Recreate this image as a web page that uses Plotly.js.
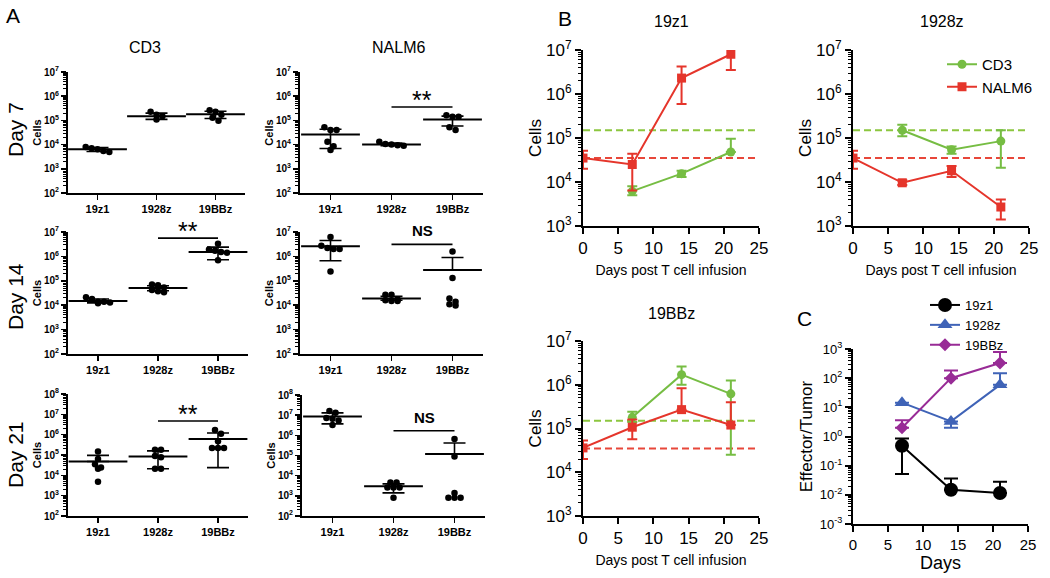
<!DOCTYPE html>
<html><head><meta charset="utf-8">
<script src="https://cdn.plot.ly/plotly-3.0.1.min.js"></script>
<style>html,body{margin:0;padding:0;background:#fff}#chart{width:1050px;height:578px}</style>
</head><body><div id="chart"></div>
<script>
// ---------- DATA ----------
const groups = ['19z1', '1928z', '19BBz'];

// Panel A: cells per mouse (points), mean, mean+SD, mean-SD
const cd3D7 = [[7e3, 8e3, 6.5e3, 5e3, 5.5e3], [2.3e5, 1.7e5, 1.1e5, 1.5e5], [2.6e5, 2.3e5, 1.7e5, 1.3e5, 9.6e4]];
const cd3D7Mean = [6.4e3, 1.5e5, 1.8e5];
const cd3D7Hi = [7.5e3, 2e5, 2.4e5];
const cd3D7Lo = [5.2e3, 1.1e5, 1.2e5];

const nalmD7 = [[5.2e4, 4e4, 4e4, 1.3e4, 8.5e3, 6e3], [1.3e4, 1.05e4, 9.5e3, 9e3, 1e4], [1.65e5, 1.4e5, 1.4e5, 5.2e4, 4e4]];
const nalmD7Mean = [2.6e4, 1.0e4, 1.1e5];
const nalmD7Hi = [4.3e4, 1.15e4, 1.5e5];
const nalmD7Lo = [6.9e3, 9e3, 5.9e4];

const cd3D14 = [[1.8e4, 2.1e4, 1.4e4, 1.3e4, 1.2e4, 1.4e4], [6.5e4, 7e4, 5.3e4, 4.2e4, 3.7e4, 3.4e4], [3.3e6, 1.5e6, 1.4e6, 1.7e6, 1.9e6, 7e5]];
const cd3D14Mean = [1.5e4, 5.1e4, 1.5e6];
const cd3D14Hi = [1.8e4, 6.3e4, 2.4e6];
const cd3D14Lo = [1.25e4, 3.9e4, 7.3e5];

const nalmD14 = [[6.2e6, 2.7e6, 2e6, 2e6, 2.2e6, 2.4e5], [2.7e4, 2.7e4, 1.7e4, 1.5e4, 1.5e4, 1.6e4], [1.6e6, 1.3e5, 1.4e4, 9.8e3, 1.1e4, 1.9e4]];
const nalmD14Mean = [2.6e6, 1.9e4, 2.8e5];
const nalmD14Hi = [4.5e6, 2.3e4, 9e5];
const nalmD14Lo = [6.6e5, 1.6e4, 2.8e5];

const cd3D21 = [[1.5e5, 6.3e4, 3.5e4, 2.4e4, 2.1e4, 4.9e3], [1.8e5, 1.8e5, 9e4, 7.8e4, 2.1e4, 2.1e4], [1.7e6, 1.1e6, 4.8e5, 2.2e5, 2.2e5, 2.2e5]];
const cd3D21Mean = [4.8e4, 8.5e4, 6.2e5];
const cd3D21Hi = [9.6e4, 1.6e5, 1.2e6];
const cd3D21Lo = [4.8e4, 2.1e4, 2.4e4];

const nalmD21 = [[1.6e7, 1.3e7, 7.3e6, 6.6e6, 5.5e6, 3.3e6], [4.6e3, 4.6e3, 2.6e3, 2.6e3, 2.6e3, 8e2], [6.5e5, 8.8e4, 8e2, 8e2, 8e2, 1.4e3]];
const nalmD21Mean = [8.5e6, 3e3, 1.2e5];
const nalmD21Hi = [1.3e7, 3.9e3, 4.2e5];
const nalmD21Lo = [3.7e6, 1.4e3, 1.2e5];

// significance bars (1928z vs 19BBz)
const sigLevels = [null, 3.6e5, 5.6e6, 3.1e6, 4.7e6, 1.7e6];
const sigLabels = ['', '**', '**', 'NS', '**', 'NS'];

// y tick labels
const aTickVals = [1e2, 1e3, 1e4, 1e5, 1e6, 1e7, 1e8];
const aTickText = ['10<sup>2</sup>', '10<sup>3</sup>', '10<sup>4</sup>', '10<sup>5</sup>', '10<sup>6</sup>', '10<sup>7</sup>', '10<sup>8</sup>'];
const cTickVals = [1e-3, 1e-2, 1e-1, 1, 10, 100, 1000];
const cTickText = ['10<sup>-3</sup>', '10<sup>-2</sup>', '10<sup>-1</sup>', '10<sup>0</sup>', '10<sup>1</sup>', '10<sup>2</sup>', '10<sup>3</sup>'];

// Panel B: kinetics
const daysCD3 = [7, 14, 21];
const daysNALM6 = [0, 7, 14, 21];
const z1CD3 = [6.2e3, 1.55e4, 4.8e4], z1CD3Hi = [8e3, 1.8e4, 9.6e4], z1CD3Lo = [5e3, 1.3e4, 4.8e4];
const z1NALM6 = [3.5e4, 2.5e4, 2.3e6, 8e6], z1NALM6Hi = [5.1e4, 4.4e4, 4.2e6, 1.3e7], z1NALM6Lo = [2e4, 6.4e3, 5.9e5, 3.5e6];
const z28CD3 = [1.5e5, 5.4e4, 8.5e4], z28CD3Hi = [2e5, 6.4e4, 1.5e5], z28CD3Lo = [1.1e5, 4.4e4, 2.1e4];
const z28NALM6 = [3.5e4, 9.6e3, 1.8e4, 2.7e3], z28NALM6Hi = [5.1e4, 1.1e4, 2.3e4, 4e3], z28NALM6Lo = [2e4, 8.5e3, 1.3e4, 1.4e3];
const bbzCD3 = [1.8e5, 1.7e6, 6.2e5], bbzCD3Hi = [2.4e5, 2.6e6, 1.25e6], bbzCD3Lo = [1.4e5, 1e6, 2.5e4];
const bbzNALM6 = [3.6e4, 1.07e5, 2.7e5, 1.2e5], bbzNALM6Hi = [5.3e4, 1.6e5, 8.3e5, 4e5], bbzNALM6Lo = [2e4, 5.7e4, 2.7e5, 1.2e5];
const cd3Baseline = 1.5e5;
const nalmBaseline = 3.5e4;
const bDayRange = [0, 25];

// Panel C: effector / tumor ratio
const cDays = [7, 14, 21];
const z1Ratio = [0.48, 0.015, 0.0115], z1RatioHi = [0.85, 0.036, 0.028], z1RatioLo = [0.052, 0.015, 0.0115];
const z28Ratio = [14.5, 3.3, 59], z28RatioHi = [14.5, 3.3, 148], z28RatioLo = [14.5, 2.0, 59];
const bbzRatio = [2.0, 100, 330], bbzRatioHi = [3.6, 183, 790], bbzRatioLo = [2.0, 100, 330];

// ---------- LAYOUT HELPERS ----------
const W = 1050, H = 578;
const F = 'Liberation Sans, Arial, sans-serif';
const GREEN = '#76bd43', RED = '#e5352b', BLUE = '#3f63b7', PURPLE = '#982b96';
function dx(a, b) { return [a / W, b / W]; }
function dy(top, bot) { return [1 - bot / H, 1 - top / H]; }

const traces = [];
const layout = {
  width: W, height: H, margin: {l: 0, r: 0, t: 0, b: 0},
  paper_bgcolor: '#fff', plot_bgcolor: 'rgba(0,0,0,0)',
  font: {family: F, color: '#000'},
  annotations: [],
  legend: {x: 942 / W, y: 1 - 48 / H, xanchor: 'left', yanchor: 'top', font: {size: 15, family: F}, bgcolor: 'rgba(0,0,0,0)', itemwidth: 30, tracegroupgap: 0},
  legend2: {x: 925 / W, y: 1 - 290 / H, xanchor: 'left', yanchor: 'top', font: {size: 13, family: F}, bgcolor: 'rgba(0,0,0,0)', itemwidth: 30, tracegroupgap: 0}
};

// Panel A
const aPanels = [
  {pts: cd3D7, mean: cd3D7Mean, hi: cd3D7Hi, lo: cd3D7Lo, range: [2, 7], dom: [68, 245, 72, 193]},
  {pts: nalmD7, mean: nalmD7Mean, hi: nalmD7Hi, lo: nalmD7Lo, range: [2, 7], dom: [300, 483, 72, 193]},
  {pts: cd3D14, mean: cd3D14Mean, hi: cd3D14Hi, lo: cd3D14Lo, range: [2, 7], dom: [68, 248, 232, 354]},
  {pts: nalmD14, mean: nalmD14Mean, hi: nalmD14Hi, lo: nalmD14Lo, range: [2, 7], dom: [300, 483, 232, 354]},
  {pts: cd3D21, mean: cd3D21Mean, hi: cd3D21Hi, lo: cd3D21Lo, range: [2, 8], dom: [68, 248, 394, 516]},
  {pts: nalmD21, mean: nalmD21Mean, hi: nalmD21Hi, lo: nalmD21Lo, range: [2, 8], dom: [302, 485, 395, 516]}
];

function swarm(vals, center) {
  // simple beeswarm: cluster values close in log space, spread horizontally
  const idx = vals.map((v, i) => i).sort((a, b) => vals[b] - vals[a]);
  const xs = new Array(vals.length);
  let i = 0;
  while (i < idx.length) {
    let j = i;
    while (j + 1 < idx.length && Math.log10(vals[idx[i]]) - Math.log10(vals[idx[j + 1]]) < 0.22) j++;
    const k = j - i + 1;
    for (let m = 0; m < k; m++) xs[idx[i + m]] = center + (m - (k - 1) / 2) * 0.1;
    i = j + 1;
  }
  return xs;
}

aPanels.forEach((p, n) => {
  const id = n + 1;
  const xa = 'x' + id, ya = 'y' + id;
  const xk = 'xaxis' + id, yk = 'yaxis' + id;
  p.pts.forEach((vals, g) => {
    traces.push({type: 'scatter', mode: 'markers', x: swarm(vals, g), y: vals, xaxis: xa, yaxis: ya,
      marker: {color: '#000', size: 6.5, symbol: 'circle'}, showlegend: false, hoverinfo: 'y'});
  });
  traces.push({type: 'scatter', mode: 'markers', x: [0, 1, 2], y: p.mean, xaxis: xa, yaxis: ya, showlegend: false,
    marker: {symbol: 'line-ew', size: 42, color: '#000', line: {width: 2, color: '#000'}},
    error_y: {type: 'data', symmetric: false, array: p.hi.map((h, i) => h - p.mean[i]), arrayminus: p.lo.map((l, i) => p.mean[i] - l), width: 11, thickness: 1.6, color: '#000'}});
  if (sigLevels[n]) {
    const isNS = sigLabels[n] === 'NS';
    traces.push({type: 'scatter', mode: 'lines', x: [1, 2], y: [sigLevels[n], sigLevels[n]], xaxis: xa, yaxis: ya,
      line: {color: '#000', width: 1.6}, showlegend: false, hoverinfo: 'skip'});
    layout.annotations.push({xref: xa, yref: ya, x: 1.5, y: Math.log10(sigLevels[n]), text: sigLabels[n], showarrow: false,
      yanchor: 'bottom', yshift: isNS ? 3 : -9,
      font: {size: isNS ? 15 : 25, family: F, weight: isNS ? 'bold' : 'normal'}});
  }
  layout[xk] = {domain: dx(p.dom[0], p.dom[1]), anchor: ya, range: [-0.5, 2.5], tickmode: 'array', tickvals: [0, 1, 2], ticktext: groups,
    showline: true, linewidth: 2, linecolor: '#000', ticks: 'outside', ticklen: 5, tickwidth: 1.5, tickcolor: '#000',
    tickfont: {size: 11, family: F, weight: 'bold'}, showgrid: false, zeroline: false, fixedrange: true};
  layout[yk] = {domain: dy(p.dom[2], p.dom[3]), anchor: xa, type: 'log', range: p.range, tickmode: 'array', tickvals: aTickVals, ticktext: aTickText,
    showline: true, linewidth: 2, linecolor: '#000', ticks: 'outside', ticklen: 5, tickwidth: 1.5, tickcolor: '#000',
    minor: {ticks: 'outside', ticklen: 3, tickwidth: 1, tickcolor: '#000', dtick: 'D1', showgrid: false},
    tickfont: {size: 10, family: F, weight: 'bold'}, showgrid: false, zeroline: false, fixedrange: true,
    title: {text: 'Cells', font: {size: 11, family: F, weight: 'bold'}, standoff: 0}};
});

// Panel B
const bPanels = [
  {cd3: z1CD3, cd3Hi: z1CD3Hi, cd3Lo: z1CD3Lo, nalm: z1NALM6, nalmHi: z1NALM6Hi, nalmLo: z1NALM6Lo, dom: [583, 759, 50, 226], legend: false},
  {cd3: z28CD3, cd3Hi: z28CD3Hi, cd3Lo: z28CD3Lo, nalm: z28NALM6, nalmHi: z28NALM6Hi, nalmLo: z28NALM6Lo, dom: [853, 1029, 50, 226], legend: true},
  {cd3: bbzCD3, cd3Hi: bbzCD3Hi, cd3Lo: bbzCD3Lo, nalm: bbzNALM6, nalmHi: bbzNALM6Hi, nalmLo: bbzNALM6Lo, dom: [583, 759, 341, 516], legend: false}
];
function errs(v, hi, lo) {
  return {type: 'data', symmetric: false, array: hi.map((h, i) => h - v[i]), arrayminus: lo.map((l, i) => v[i] - l)};
}
bPanels.forEach((p, n) => {
  const id = n + 7;
  const xa = 'x' + id, ya = 'y' + id;
  traces.push({type: 'scatter', mode: 'lines', x: bDayRange, y: [cd3Baseline, cd3Baseline], xaxis: xa, yaxis: ya,
    line: {color: '#8cc63f', width: 2, dash: '7px,4px'}, showlegend: false, hoverinfo: 'skip'});
  traces.push({type: 'scatter', mode: 'lines', x: bDayRange, y: [nalmBaseline, nalmBaseline], xaxis: xa, yaxis: ya,
    line: {color: '#e8473a', width: 2, dash: '7px,4px'}, showlegend: false, hoverinfo: 'skip'});
  traces.push({type: 'scatter', mode: 'lines+markers', name: 'CD3', x: daysCD3, y: p.cd3, xaxis: xa, yaxis: ya,
    line: {color: GREEN, width: 2}, marker: {color: GREEN, size: 9, symbol: 'circle'},
    error_y: Object.assign(errs(p.cd3, p.cd3Hi, p.cd3Lo), {width: 5, thickness: 2, color: GREEN}),
    showlegend: p.legend, legend: 'legend'});
  traces.push({type: 'scatter', mode: 'lines+markers', name: 'NALM6', x: daysNALM6, y: p.nalm, xaxis: xa, yaxis: ya,
    line: {color: RED, width: 2}, marker: {color: RED, size: 9, symbol: 'square'},
    error_y: Object.assign(errs(p.nalm, p.nalmHi, p.nalmLo), {width: 5, thickness: 2, color: RED}),
    showlegend: p.legend, legend: 'legend'});
  layout['xaxis' + id] = {domain: dx(p.dom[0], p.dom[1]), anchor: ya, range: [0, 25], dtick: 5,
    showline: true, linewidth: 2, linecolor: '#000', ticks: 'outside', ticklen: 6, tickwidth: 2, tickcolor: '#000',
    tickfont: {size: 17, family: F}, showgrid: false, zeroline: false, fixedrange: true,
    title: {text: 'Days post T cell infusion', font: {size: 14, family: F}, standoff: 8}};
  layout['yaxis' + id] = {domain: dy(p.dom[2], p.dom[3]), anchor: xa, type: 'log', range: [3, 7], tickmode: 'array', tickvals: aTickVals, ticktext: aTickText,
    showline: true, linewidth: 2, linecolor: '#000', ticks: 'outside', ticklen: 6, tickwidth: 2, tickcolor: '#000',
    minor: {ticks: 'outside', ticklen: 3, tickwidth: 1, tickcolor: '#000', dtick: 'D1', showgrid: false},
    tickfont: {size: 17, family: F}, showgrid: false, zeroline: false, fixedrange: true,
    title: {text: 'Cells', font: {size: 17, family: F}, standoff: 0}};
});

// Panel C
(function () {
  const xa = 'x10', ya = 'y10';
  const series = [
    {name: '19z1', y: z1Ratio, hi: z1RatioHi, lo: z1RatioLo, color: '#000', symbol: 'circle', size: 14},
    {name: '1928z', y: z28Ratio, hi: z28RatioHi, lo: z28RatioLo, color: BLUE, symbol: 'triangle-up', size: 13},
    {name: '19BBz', y: bbzRatio, hi: bbzRatioHi, lo: bbzRatioLo, color: PURPLE, symbol: 'diamond', size: 10}
  ];
  series.forEach(s => {
    traces.push({type: 'scatter', mode: 'lines+markers', name: s.name, x: cDays, y: s.y, xaxis: xa, yaxis: ya,
      line: {color: s.color, width: 2}, marker: {color: s.color, size: s.size, symbol: s.symbol},
      error_y: Object.assign(errs(s.y, s.hi, s.lo), {width: 7, thickness: 2, color: s.color}),
      legend: 'legend2'});
  });
  layout.xaxis10 = {domain: dx(853, 1028), anchor: ya, range: [0, 25], dtick: 5,
    showline: true, linewidth: 2, linecolor: '#000', ticks: 'outside', ticklen: 6, tickwidth: 2, tickcolor: '#000',
    tickfont: {size: 15, family: F}, showgrid: false, zeroline: false, fixedrange: true,
    title: {text: 'Days', font: {size: 18, family: F}, standoff: 3}};
  layout.yaxis10 = {domain: dy(349, 524), anchor: xa, type: 'log', range: [-3, 3], tickmode: 'array', tickvals: cTickVals, ticktext: cTickText,
    showline: true, linewidth: 2, linecolor: '#000', ticks: 'outside', ticklen: 6, tickwidth: 2, tickcolor: '#000',
    minor: {ticks: 'outside', ticklen: 3, tickwidth: 1, tickcolor: '#000', dtick: 'D1', showgrid: false},
    tickfont: {size: 13, family: F}, showgrid: false, zeroline: false, fixedrange: true,
    title: {text: 'Effector/Tumor', font: {size: 17, family: F}, standoff: 3}};
})();

// Text labels
function ann(x, y, text, size, extra) {
  layout.annotations.push(Object.assign({xref: 'paper', yref: 'paper', x: x / W, y: 1 - y / H, text: text, showarrow: false,
    font: {size: size, family: F}, xanchor: 'center', yanchor: 'middle'}, extra || {}));
}
ann(13, 16, 'A', 21);
ann(565, 19, 'B', 21);
ann(804, 318, 'C', 21);
ann(145, 48, 'CD3', 16);
ann(398, 48, 'NALM6', 16);
ann(15, 130, 'Day 7', 21, {textangle: -90});
ann(15, 297, 'Day 14', 21, {textangle: -90});
ann(15, 455, 'Day 21', 21, {textangle: -90});
ann(671, 21, '19z1', 16);
ann(942, 21, '1928z', 16);
ann(671, 313, '19BBz', 16);

Plotly.newPlot('chart', traces, layout, {displayModeBar: false, staticPlot: true});
</script></body></html>
